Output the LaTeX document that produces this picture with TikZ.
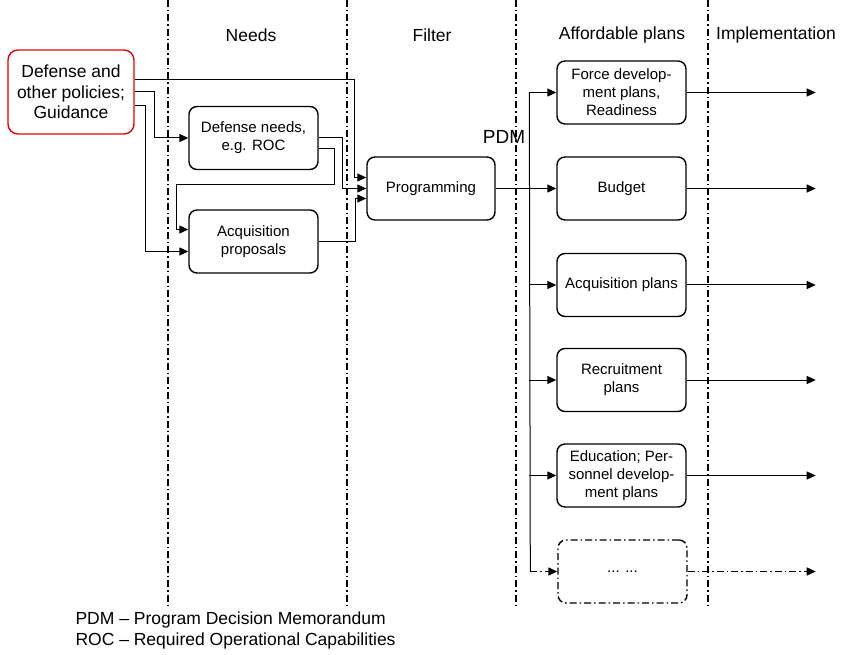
\documentclass[tikz,border=0pt]{standalone}
\usepackage{fontspec}
\setmainfont{Liberation Sans}
\usetikzlibrary{arrows.meta}
\tikzset{
  box/.style={draw,line width=1.4pt,rounded corners=8pt,minimum width=129pt,minimum height=63pt,align=center,inner sep=2pt,font=\fontsize{15}{18}\selectfont},
  polbox/.style={box,draw=red!90!black,minimum width=126pt,minimum height=84pt,rounded corners=10pt,font=\fontsize{17.5}{20.5}\selectfont},
  arr/.style={line width=1pt,-{Triangle[length=9pt,width=8pt]}},
  dashdot/.style={dash pattern=on 7pt off 3pt on 1.5pt off 3pt},
  lane/.style={dashdot,line width=1.4pt},
  head/.style={font=\fontsize{17.5}{20}\selectfont},
}
\begin{document}
\begin{tikzpicture}[x=1pt,y=-1pt]
        \useasboundingbox (0,0) rectangle (841,655);
        % lanes
        \foreach \x in {168,347,516,708} \draw[lane] (\x,0) -- (\x,607);
        \node[head] (hneeds) at (251,35) {Needs};
        \node[head] (hfilter) at (432,35) {Filter};
        \node[head] (hplans) at (622,35) {Affordable plans};
        \node[head] (himpl) at (776,35) {Implementation};
        % boxes
        \node[polbox] (policy) at (71,92) {Defense and\\other policies;\\Guidance};
        \node[box] (needs) at (253.5,138) {Defense needs,\\e.g. ROC};
        \node[box] (acq) at (253.5,241.5) {Acquisition\\proposals};
        \node[box,minimum width=128pt] (prog) at (431,188.5) {Programming};
        \node[head,font=\fontsize{19}{22}\selectfont] (pdm) at (504,137) {PDM};
        \node[box] (force) at (621.5,92.5) {Force develop-\\ment plans,\\Readiness};
        \node[box] (budget) at (621.5,188.5) {Budget};
        \node[box] (acqp) at (621.5,285) {Acquisition plans};
        \node[box] (recr) at (621.5,380) {Recruitment\\plans};
        \node[box] (edu) at (621.5,475.5) {Education; Per-\\sonnel develop-\\ment plans};
        \node[box,dashdot] (etc) at (622.5,571.5) {... ...};
        % needs and filter
        \draw[arr] ([yshift=12pt]policy.east) -| ([xshift=-12pt,yshift=11pt]prog.west) -- ([yshift=11pt]prog.west);
        \draw[arr] (policy.east) -| ([xshift=-34pt]needs.west) -- (needs.west);
        \draw[arr] ([yshift=-14pt]policy.east) -| ([xshift=-43pt,yshift=-10pt]acq.west) -- ([yshift=-10pt]acq.west);
        \draw[arr] ([yshift=-11pt]needs.east) -- ++(16,0) -- ++(0,36) -| ([xshift=-12pt,yshift=12pt]acq.west) -- ([yshift=12pt]acq.west);
        \draw[arr] (needs.east) -| ([xshift=-24pt]prog.west) -- (prog.west);
        \draw[arr] (acq.east) -| ([xshift=-11pt,yshift=-10pt]prog.west) -- ([yshift=-10pt]prog.west);
        \draw[arr] (prog) -- (budget);
        % plans
        \draw[line width=1pt] ([xshift=-27pt]force.west) -- ([xshift=-27pt]etc.west);
        \foreach \n in {force,acqp,recr,edu} \draw[arr] ([xshift=-27pt]\n.west) -- (\n.west);
        \draw[arr,dashdot,line width=1.4pt] ([xshift=-27pt]etc.west) -- (etc.west);
        \foreach \n in {force,budget,acqp,recr,edu} \draw[arr] (\n.east) -- ++(129,0);
        \draw[arr,dashdot,line width=1.4pt] (etc.east) -- ++(128,0);
        % legend
        \node[head,anchor=west] (leg1) at (72,620) {PDM -- Program Decision Memorandum};
        \node[head,anchor=west] (leg2) at (72,641) {ROC -- Required Operational Capabilities};
        \end{tikzpicture}
\end{document}
